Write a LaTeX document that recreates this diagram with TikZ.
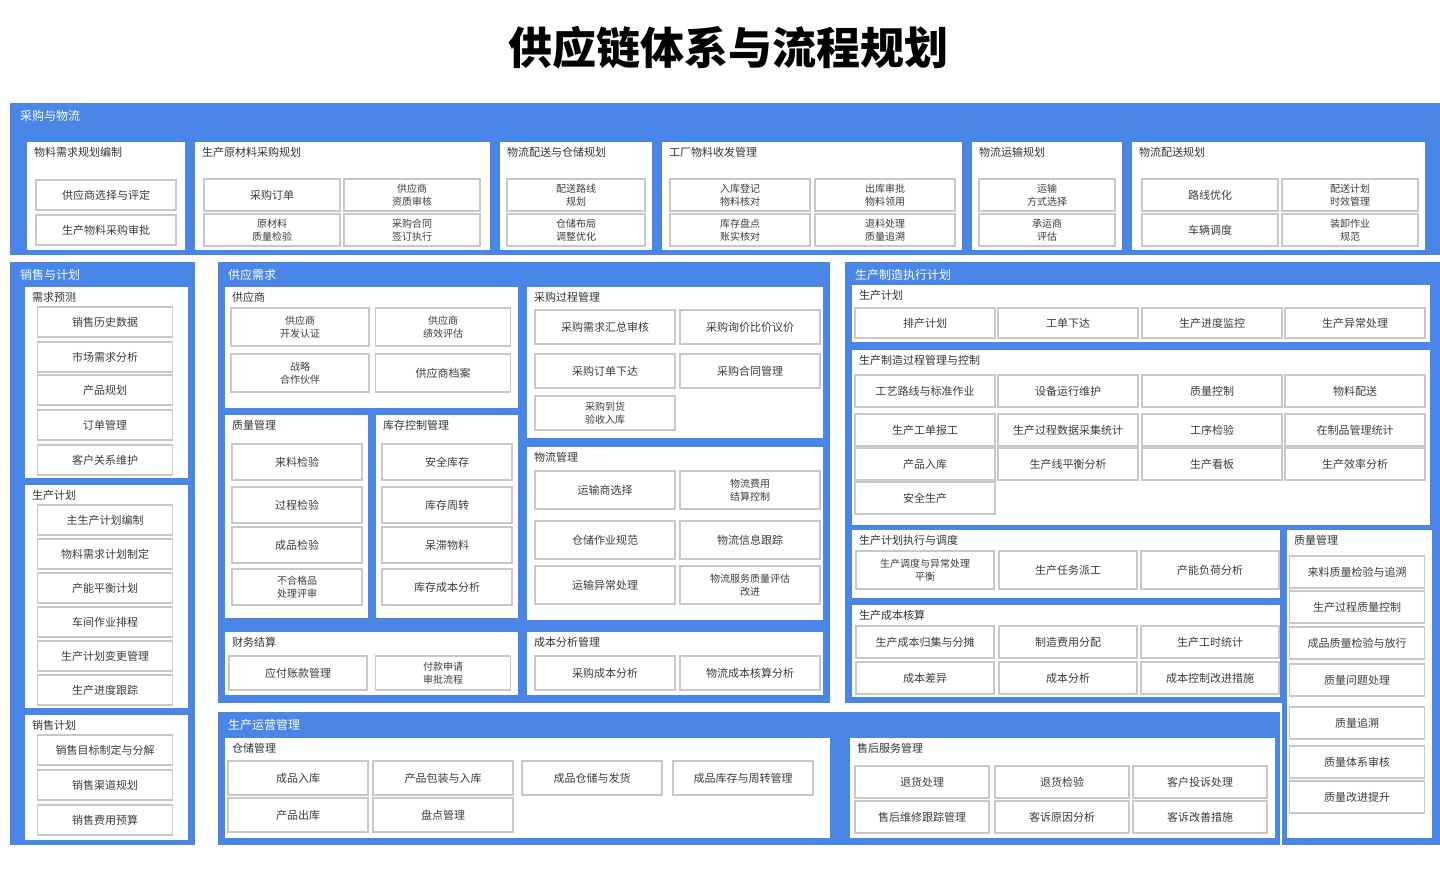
\documentclass[tikz,border=0pt]{standalone}
\usepackage{fontspec}
\setmainfont{Noto Sans CJK SC}
\usetikzlibrary{fit}
\definecolor{mblue}{RGB}{74,134,232}
\definecolor{itxt}{RGB}{60,60,60}
\definecolor{iline}{RGB}{200,200,200}
\tikzset{
  cont/.style={fill=mblue, draw=none, inner sep=0pt},
  pnl/.style={fill=white, draw=none, inner sep=0pt},
  itm/.style={fill=white, draw=iline, line width=1.2pt, align=center, text=itxt, inner sep=1pt, font=\fontsize{11}{13}\selectfont},
  ptitle/.style={anchor=west, inner sep=0pt, text=black!80, font=\fontsize{11}{13}\selectfont},
  htitle/.style={anchor=west, inner sep=0pt, text=white, font=\fontsize{12}{14}\selectfont},
}
\newcommand{\itm}[6]{\node[itm, minimum width=#4pt, minimum height=#5pt] (#1) at (#2,#3) {#6};}
\newcommand{\pnl}[6]{\node[pnl, fit={(#2,#3) (#4,#5)}] (#1) {};
  \node[ptitle] (#1t) at (#2+7,#3+10) {#6};}
\newcommand{\cnt}[6]{\node[cont, fit={(#2,#3) (#4,#5)}] (#1) {};
  \node[htitle] (#1t) at (#2+10,#3+13) {#6};}
\begin{document}
\begin{tikzpicture}[x=1pt,y=-1pt]
\useasboundingbox (0,0) rectangle (1440,886);
\node[font=\fontsize{44}{50}\selectfont\bfseries] (title) at (728,48) {供应链体系与流程规划};

% ---------- top band ----------
\cnt{top}{10}{103}{1440}{255}{采购与物流}
\pnl{ta}{27}{142}{185}{250}{物料需求规划编制}
\itm{ta1}{106}{195}{140}{30}{供应商选择与评定}
\itm{ta2}{106}{230}{140}{30}{生产物料采购审批}
\pnl{tb}{195}{142}{490}{250}{生产原材料采购规划}
\itm{tb1}{272}{195}{136}{32}{采购订单}
\itm{tb2}{412}{195}{136}{32}{\fontsize{10}{12}\selectfont 供应商\\\fontsize{10}{12}\selectfont 资质审核}
\itm{tb3}{272}{230}{136}{32}{\fontsize{10}{12}\selectfont 原材料\\\fontsize{10}{12}\selectfont 质量检验}
\itm{tb4}{412}{230}{136}{32}{\fontsize{10}{12}\selectfont 采购合同\\\fontsize{10}{12}\selectfont 签订执行}
\pnl{tc}{500}{142}{652}{250}{物流配送与仓储规划}
\itm{tc1}{576}{195}{138}{32}{\fontsize{10}{12}\selectfont 配送路线\\\fontsize{10}{12}\selectfont 规划}
\itm{tc2}{576}{230}{138}{32}{\fontsize{10}{12}\selectfont 仓储布局\\\fontsize{10}{12}\selectfont 调整优化}
\pnl{td}{662}{142}{962}{250}{工厂物料收发管理}
\itm{td1}{740}{195}{140}{32}{\fontsize{10}{12}\selectfont 入库登记\\\fontsize{10}{12}\selectfont 物料核对}
\itm{td2}{885}{195}{140}{32}{\fontsize{10}{12}\selectfont 出库审批\\\fontsize{10}{12}\selectfont 物料领用}
\itm{td3}{740}{230}{140}{32}{\fontsize{10}{12}\selectfont 库存盘点\\\fontsize{10}{12}\selectfont 账实核对}
\itm{td4}{885}{230}{140}{32}{\fontsize{10}{12}\selectfont 退料处理\\\fontsize{10}{12}\selectfont 质量追溯}
\pnl{te}{972}{142}{1122}{250}{物流运输规划}
\itm{te1}{1047}{195}{136}{32}{\fontsize{10}{12}\selectfont 运输\\\fontsize{10}{12}\selectfont 方式选择}
\itm{te2}{1047}{230}{136}{32}{\fontsize{10}{12}\selectfont 承运商\\\fontsize{10}{12}\selectfont 评估}
\pnl{tf}{1132}{142}{1425}{250}{物流配送规划}
\itm{tf1}{1210}{195}{136}{32}{路线优化}
\itm{tf2}{1350}{195}{136}{32}{\fontsize{10}{12}\selectfont 配送计划\\\fontsize{10}{12}\selectfont 时效管理}
\itm{tf3}{1210}{230}{136}{32}{车辆调度}
\itm{tf4}{1350}{230}{136}{32}{\fontsize{10}{12}\selectfont 装卸作业\\\fontsize{10}{12}\selectfont 规范}

% ---------- left column ----------
\cnt{lc}{10}{262}{195}{845}{销售与计划}
\pnl{la}{25}{287}{188}{478}{需求预测}
\itm{la1}{105}{322}{135}{30}{销售历史数据}
\itm{la2}{105}{357}{135}{30}{市场需求分析}
\itm{la3}{105}{390}{135}{30}{产品规划}
\itm{la4}{105}{425}{135}{30}{订单管理}
\itm{la5}{105}{460}{135}{30}{客户关系维护}
\pnl{lb}{25}{485}{188}{708}{生产计划}
\itm{lb1}{105}{520}{135}{30}{主生产计划编制}
\itm{lb2}{105}{554}{135}{30}{物料需求计划制定}
\itm{lb3}{105}{588}{135}{30}{产能平衡计划}
\itm{lb4}{105}{622}{135}{30}{车间作业排程}
\itm{lb5}{105}{656}{135}{30}{生产计划变更管理}
\itm{lb6}{105}{690}{135}{30}{生产进度跟踪}
\pnl{lcc}{25}{715}{188}{840}{销售计划}
\itm{lc1}{105}{750}{135}{30}{销售目标制定与分解}
\itm{lc2}{105}{785}{135}{30}{销售渠道规划}
\itm{lc3}{105}{820}{135}{30}{销售费用预算}

% ---------- middle box ----------
\cnt{mid}{218}{262}{830}{703}{供应需求}
\pnl{p1}{225}{287}{518}{408}{供应商}
\itm{p11}{300}{327}{138}{38}{\fontsize{10}{12}\selectfont 供应商\\\fontsize{10}{12}\selectfont 开发认证}
\itm{p12}{443}{327}{135}{38}{\fontsize{10}{12}\selectfont 供应商\\\fontsize{10}{12}\selectfont 绩效评估}
\itm{p13}{300}{373}{138}{38}{\fontsize{10}{12}\selectfont 战略\\\fontsize{10}{12}\selectfont 合作伙伴}
\itm{p14}{443}{373}{135}{38}{供应商档案}
\pnl{p2}{527}{287}{823}{438}{采购过程管理}
\itm{p21}{605}{327}{140}{34}{采购需求汇总审核}
\itm{p22}{750}{327}{140}{34}{采购询价比价议价}
\itm{p23}{605}{371}{140}{34}{采购订单下达}
\itm{p24}{750}{371}{140}{34}{采购合同管理}
\itm{p25}{605}{413}{140}{34}{\fontsize{10}{12}\selectfont 采购到货\\\fontsize{10}{12}\selectfont 验收入库}
\pnl{p3}{225}{415}{368}{618}{质量管理}
\itm{p31}{297}{462}{130}{36}{来料检验}
\itm{p32}{297}{505}{130}{36}{过程检验}
\itm{p33}{297}{545}{130}{36}{成品检验}
\itm{p34}{297}{587}{130}{36}{\fontsize{10}{12}\selectfont 不合格品\\\fontsize{10}{12}\selectfont 处理评审}
\pnl{p4}{376}{415}{518}{618}{库存控制管理}
\itm{p41}{447}{462}{130}{36}{安全库存}
\itm{p42}{447}{505}{130}{36}{库存周转}
\itm{p43}{447}{545}{130}{36}{呆滞物料}
\itm{p44}{447}{587}{130}{36}{库存成本分析}
\pnl{p5}{527}{447}{823}{620}{物流管理}
\itm{p51}{605}{490}{140}{38}{运输商选择}
\itm{p52}{750}{490}{140}{38}{\fontsize{10}{12}\selectfont 物流费用\\\fontsize{10}{12}\selectfont 结算控制}
\itm{p53}{605}{540}{140}{38}{仓储作业规范}
\itm{p54}{750}{540}{140}{38}{物流信息跟踪}
\itm{p55}{605}{585}{140}{38}{运输异常处理}
\itm{p56}{750}{585}{140}{38}{\fontsize{10}{12}\selectfont 物流服务质量评估\\\fontsize{10}{12}\selectfont 改进}
\pnl{p6}{225}{632}{518}{695}{财务结算}
\itm{p61}{298}{673}{138}{34}{应付账款管理}
\itm{p62}{443}{673}{135}{34}{\fontsize{10}{12}\selectfont 付款申请\\\fontsize{10}{12}\selectfont 审批流程}
\pnl{p7}{527}{632}{823}{695}{成本分析管理}
\itm{p71}{605}{673}{140}{34}{采购成本分析}
\itm{p72}{750}{673}{140}{34}{物流成本核算分析}

% ---------- right box ----------
\cnt{rgt}{845}{262}{1440}{703}{生产制造执行计划}
\pnl{r1}{852}{285}{1430}{342}{生产计划}
\itm{r11}{925}{323}{140}{30}{排产计划}
\itm{r12}{1068}{323}{140}{30}{工单下达}
\itm{r13}{1212}{323}{140}{30}{生产进度监控}
\itm{r14}{1355}{323}{140}{30}{生产异常处理}
\pnl{r2}{852}{350}{1430}{525}{生产制造过程管理与控制}
\itm{r21}{925}{391}{140}{32}{工艺路线与标准作业}
\itm{r22}{1068}{391}{140}{32}{设备运行维护}
\itm{r23}{1212}{391}{140}{32}{质量控制}
\itm{r24}{1355}{391}{140}{32}{物料配送}
\itm{r25}{925}{430}{140}{32}{生产工单报工}
\itm{r26}{1068}{430}{140}{32}{生产过程数据采集统计}
\itm{r27}{1212}{430}{140}{32}{工序检验}
\itm{r28}{1355}{430}{140}{32}{在制品管理统计}
\itm{r29}{925}{464}{140}{32}{产品入库}
\itm{r2a}{1068}{464}{140}{32}{生产线平衡分析}
\itm{r2b}{1212}{464}{140}{32}{生产看板}
\itm{r2c}{1355}{464}{140}{32}{生产效率分析}
\itm{r2d}{925}{498}{140}{32}{安全生产}
\pnl{r3}{852}{530}{1280}{598}{生产计划执行与调度}
\itm{r31}{925}{570}{138}{38}{\fontsize{10}{12}\selectfont 生产调度与异常处理\\\fontsize{10}{12}\selectfont 平衡}
\itm{r32}{1068}{570}{138}{38}{生产任务派工}
\itm{r33}{1210}{570}{138}{38}{产能负荷分析}
\pnl{r4}{852}{605}{1280}{697}{生产成本核算}
\itm{r41}{925}{642}{138}{32}{生产成本归集与分摊}
\itm{r42}{1068}{642}{138}{32}{制造费用分配}
\itm{r43}{1210}{642}{138}{32}{生产工时统计}
\itm{r44}{925}{678}{138}{32}{成本差异}
\itm{r45}{1068}{678}{138}{32}{成本分析}
\itm{r46}{1210}{678}{138}{32}{成本控制改进措施}
\node[cont, fit={(1282,525) (1440,845)}] (r5o) {};
\pnl{r5}{1287}{530}{1432}{838}{质量管理}
\itm{r51}{1357}{572}{135}{32}{来料质量检验与追溯}
\itm{r52}{1357}{607}{135}{32}{生产过程质量控制}
\itm{r53}{1357}{643}{135}{32}{成品质量检验与放行}
\itm{r54}{1357}{680}{135}{32}{质量问题处理}
\itm{r55}{1357}{723}{135}{32}{质量追溯}
\itm{r56}{1357}{762}{135}{32}{质量体系审核}
\itm{r57}{1357}{797}{135}{32}{质量改进提升}

% ---------- bottom box ----------
\cnt{bot}{218}{712}{1280}{845}{生产运营管理}
\pnl{b1}{225}{738}{830}{838}{仓储管理}
\itm{b11}{298}{778}{140}{34}{成品入库}
\itm{b12}{443}{778}{140}{34}{产品包装与入库}
\itm{b13}{592}{778}{140}{34}{成品仓储与发货}
\itm{b14}{743}{778}{140}{34}{成品库存与周转管理}
\itm{b15}{298}{815}{140}{34}{产品出库}
\itm{b16}{443}{815}{140}{34}{盘点管理}
\pnl{b2}{850}{738}{1275}{838}{售后服务管理}
\itm{b21}{922}{782}{134}{32}{退货处理}
\itm{b22}{1062}{782}{134}{32}{退货检验}
\itm{b23}{1200}{782}{134}{32}{客户投诉处理}
\itm{b24}{922}{817}{134}{32}{售后维修跟踪管理}
\itm{b25}{1062}{817}{134}{32}{客诉原因分析}
\itm{b26}{1200}{817}{134}{32}{客诉改善措施}
\end{tikzpicture}
\end{document}
